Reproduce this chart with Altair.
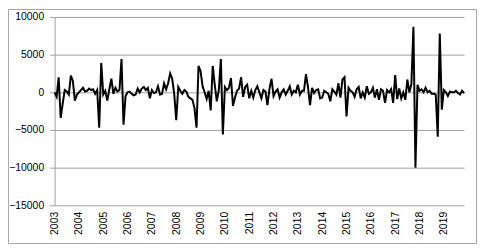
import altair as alt
import pandas as pd

# Monthly values, Jan 2003 .. Nov 2019
y2003 = [0, -600, 2000, -3400, -1500, 300, 100, -300, 2200, 1500, -1100, -300]
y2004 = [0, 300, 600, 100, 200, 500, 300, 400, -200, 300, -4700, 3900]
y2005 = [-300, 200, -1100, 400, 1800, -200, 600, 100, 300, 4400, -4300, -500]
y2006 = [0, 100, -200, -400, -300, 500, 0, 500, 700, 300, 600, -800]
y2007 = [300, -100, 0, 800, -300, -200, 1200, 400, 1200, 2500, 1800, -200]
y2008 = [-3700, 700, 200, -200, 300, 100, -600, -800, -1000, -2100, -4700, 3500]
y2009 = [2800, 800, 0, -900, 200, -2400, 3500, 1000, -1200, 300, 4400, -5600]
y2010 = [700, 300, 600, 1900, -1800, -700, 200, 500, 2000, -600, 700, 1000]
y2011 = [-800, 200, -700, 300, 800, 0, -800, 300, 100, -1700, 500, 1800]
y2012 = [-500, 100, 400, -700, 0, 400, -300, 200, 800, -300, 200, 0]
y2013 = [1000, -300, 200, 200, 2400, 700, -1700, 600, -100, 300, 400, -800]
y2014 = [-700, 200, 0, -200, -1200, 400, 100, -300, 1200, -700, 1700, 2000]
y2015 = [-3200, 600, 200, 0, -600, 400, 700, -800, 0, -700, 800, -200]
y2016 = [0, 600, -700, 400, -1000, 400, 200, -1400, 300, 0, 400, -1400]
y2017 = [2300, -900, 500, -800, 0, -1000, 1700, 0, 1100, 8700, -10000, 1000]
y2018 = [200, 400, 0, 600, 0, 200, -200, -200, -300, -5900, 7800, -2300]
y2019 = [300, 0, -500, 100, 0, 0, 200, -100, -300, 200, -100]

values = (y2003 + y2004 + y2005 + y2006 + y2007 + y2008 + y2009 + y2010 + y2011
          + y2012 + y2013 + y2014 + y2015 + y2016 + y2017 + y2018 + y2019)
start_year = 2003
years = list(range(2003, 2020))

df = pd.DataFrame({"m": list(range(len(values))), "v": values})

FONT = "Liberation Sans"
GRID = "#a0a0a0"

line = alt.Chart(df).mark_line(color="#000000", strokeWidth=2).encode(
    x=alt.X(
        "m:Q",
        scale=alt.Scale(domain=[0, len(values) - 1], nice=False, zero=False),
        axis=alt.Axis(
            values=[(y - start_year) * 12 for y in years],
            labelExpr=f"'' + ({start_year} + round(datum.value / 12))",
            labelAngle=270,
            labelFont=FONT,
            labelFontSize=10.5,
            labelColor="#000000",
            labelPadding=6,
            ticks=False,
            domain=False,
            grid=False,
            title=None,
        ),
    ),
    y=alt.Y(
        "v:Q",
        scale=alt.Scale(domain=[-15000, 10000], nice=False),
        axis=alt.Axis(
            values=[-15000, -10000, -5000, 0, 5000, 10000],
            format="d",
            labelFont=FONT,
            labelFontSize=10.5,
            labelColor="#000000",
            labelPadding=6,
            tickSize=5,
            tickColor=GRID,
            domainColor=GRID,
            gridColor=GRID,
            gridWidth=1,
            title=None,
        ),
    ),
)

border = alt.Chart(pd.DataFrame({"a": [0]})).mark_rect(
    fill=None, stroke="#a6a6a6", strokeWidth=1
).encode(
    x=alt.value(-46.5), x2=alt.value(425.5), y=alt.value(-7.5), y2=alt.value(228.5)
)

chart = alt.layer(border, line).properties(
    width=413,
    height=190,
    padding={"left": 47, "top": 8, "right": 13, "bottom": 43},
    autosize=alt.AutoSizeParams(type="none"),
).configure_view(stroke=None)

chart.save("out.html", embed_options={"renderer": "svg", "actions": False})
